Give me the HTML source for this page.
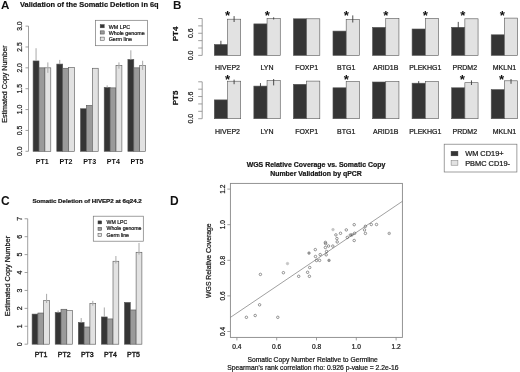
<!DOCTYPE html>
<html><head><meta charset="utf-8"><style>
html,body{margin:0;padding:0;background:#fff;}
body{width:520px;height:372px;overflow:hidden;}
svg{display:block;font-family:"Liberation Sans", sans-serif;filter:blur(0.3px);}
svg text{-webkit-font-smoothing:antialiased;stroke:#222;stroke-width:0.22px;}
body{will-change:transform;}
</style></head><body>
<svg width="520" height="372" viewBox="0 0 520 372" font-family='"Liberation Sans", sans-serif'>
<rect x="0" y="0" width="520" height="372" fill="#fff"/>
<text x="1.00" y="9.20" font-size="11.6" font-weight="bold" text-anchor="start" fill="#111" style="stroke:none">A</text>
<text x="20.00" y="6.80" font-size="7.4" font-weight="bold" text-anchor="start" fill="#111" textLength="138.6" lengthAdjust="spacingAndGlyphs">Validation of the Somatic Deletion in 6q</text>
<line x1="28.50" y1="151.30" x2="28.50" y2="26.11" stroke="#888888" stroke-width="0.8"/>
<line x1="25.50" y1="151.30" x2="28.50" y2="151.30" stroke="#888888" stroke-width="0.8"/>
<text transform="translate(22.10,151.30) rotate(-90)" x="0" y="0" font-size="6.8" text-anchor="middle" fill="#111">0.0</text>
<line x1="25.50" y1="130.44" x2="28.50" y2="130.44" stroke="#888888" stroke-width="0.8"/>
<text transform="translate(22.10,130.44) rotate(-90)" x="0" y="0" font-size="6.8" text-anchor="middle" fill="#111">0.5</text>
<line x1="25.50" y1="109.57" x2="28.50" y2="109.57" stroke="#888888" stroke-width="0.8"/>
<text transform="translate(22.10,109.57) rotate(-90)" x="0" y="0" font-size="6.8" text-anchor="middle" fill="#111">1.0</text>
<line x1="25.50" y1="88.71" x2="28.50" y2="88.71" stroke="#888888" stroke-width="0.8"/>
<text transform="translate(22.10,88.71) rotate(-90)" x="0" y="0" font-size="6.8" text-anchor="middle" fill="#111">1.5</text>
<line x1="25.50" y1="67.84" x2="28.50" y2="67.84" stroke="#888888" stroke-width="0.8"/>
<text transform="translate(22.10,67.84) rotate(-90)" x="0" y="0" font-size="6.8" text-anchor="middle" fill="#111">2.0</text>
<line x1="25.50" y1="46.98" x2="28.50" y2="46.98" stroke="#888888" stroke-width="0.8"/>
<text transform="translate(22.10,46.98) rotate(-90)" x="0" y="0" font-size="6.8" text-anchor="middle" fill="#111">2.5</text>
<line x1="25.50" y1="26.11" x2="28.50" y2="26.11" stroke="#888888" stroke-width="0.8"/>
<text transform="translate(22.10,26.11) rotate(-90)" x="0" y="0" font-size="6.8" text-anchor="middle" fill="#111">3.0</text>
<text transform="translate(7.00,84.10) rotate(-90)" x="0" y="0" font-size="7.1" text-anchor="middle" fill="#111">Estimated Copy Number</text>
<rect x="33.10" y="60.95" width="5.90" height="90.35" fill="#353535" stroke="#555" stroke-width="0.6"/>
<rect x="39.00" y="67.84" width="5.90" height="83.46" fill="#9a9a9a" stroke="#555" stroke-width="0.6"/>
<rect x="44.90" y="67.84" width="5.90" height="83.46" fill="#e2e2e2" stroke="#555" stroke-width="0.6"/>
<text x="42.25" y="164.20" font-size="7.1" font-weight="bold" text-anchor="middle" fill="#111" style="stroke:none">PT1</text>
<rect x="56.80" y="64.08" width="5.90" height="87.22" fill="#353535" stroke="#555" stroke-width="0.6"/>
<rect x="62.70" y="68.26" width="5.90" height="83.04" fill="#9a9a9a" stroke="#555" stroke-width="0.6"/>
<rect x="68.60" y="67.42" width="5.90" height="83.88" fill="#e2e2e2" stroke="#555" stroke-width="0.6"/>
<text x="65.95" y="164.20" font-size="7.1" font-weight="bold" text-anchor="middle" fill="#111" style="stroke:none">PT2</text>
<rect x="80.50" y="108.74" width="5.90" height="42.56" fill="#353535" stroke="#555" stroke-width="0.6"/>
<rect x="86.40" y="105.40" width="5.90" height="45.90" fill="#9a9a9a" stroke="#555" stroke-width="0.6"/>
<rect x="92.30" y="68.26" width="5.90" height="83.04" fill="#e2e2e2" stroke="#555" stroke-width="0.6"/>
<text x="89.65" y="164.20" font-size="7.1" font-weight="bold" text-anchor="middle" fill="#111" style="stroke:none">PT3</text>
<rect x="104.20" y="87.45" width="5.90" height="63.85" fill="#353535" stroke="#555" stroke-width="0.6"/>
<rect x="110.10" y="87.87" width="5.90" height="63.43" fill="#9a9a9a" stroke="#555" stroke-width="0.6"/>
<rect x="116.00" y="65.34" width="5.90" height="85.96" fill="#e2e2e2" stroke="#555" stroke-width="0.6"/>
<text x="113.35" y="164.20" font-size="7.1" font-weight="bold" text-anchor="middle" fill="#111" style="stroke:none">PT4</text>
<rect x="127.90" y="59.49" width="5.90" height="91.81" fill="#353535" stroke="#555" stroke-width="0.6"/>
<rect x="133.80" y="67.84" width="5.90" height="83.46" fill="#9a9a9a" stroke="#555" stroke-width="0.6"/>
<rect x="139.70" y="65.34" width="5.90" height="85.96" fill="#e2e2e2" stroke="#555" stroke-width="0.6"/>
<text x="137.05" y="164.20" font-size="7.1" font-weight="bold" text-anchor="middle" fill="#111" style="stroke:none">PT5</text>
<line x1="36.05" y1="60.95" x2="36.05" y2="48.23" stroke="#a8a8a8" stroke-width="1.0"/>
<line x1="47.85" y1="72.85" x2="47.85" y2="62.42" stroke="#a8a8a8" stroke-width="1.0"/>
<line x1="59.75" y1="64.08" x2="59.75" y2="59.91" stroke="#a8a8a8" stroke-width="1.0"/>
<line x1="107.15" y1="87.45" x2="107.15" y2="85.37" stroke="#a8a8a8" stroke-width="1.0"/>
<line x1="118.95" y1="68.67" x2="118.95" y2="62.42" stroke="#a8a8a8" stroke-width="1.0"/>
<line x1="130.85" y1="59.49" x2="130.85" y2="50.31" stroke="#a8a8a8" stroke-width="1.0"/>
<line x1="142.65" y1="69.93" x2="142.65" y2="60.75" stroke="#a8a8a8" stroke-width="1.0"/>
<rect x="95.50" y="20.30" width="51.90" height="25.40" fill="none" stroke="#777" stroke-width="0.7"/>
<rect x="100.20" y="24.60" width="4.00" height="3.20" fill="#353535" stroke="#444" stroke-width="0.5"/>
<text x="108.70" y="28.60" font-size="5.35" text-anchor="start" fill="#111">WM LPC</text>
<rect x="100.20" y="30.85" width="4.00" height="3.20" fill="#9a9a9a" stroke="#444" stroke-width="0.5"/>
<text x="108.70" y="34.85" font-size="5.35" text-anchor="start" fill="#111">Whole genome</text>
<rect x="100.20" y="37.10" width="4.00" height="3.20" fill="#e2e2e2" stroke="#444" stroke-width="0.5"/>
<text x="108.70" y="41.10" font-size="5.35" text-anchor="start" fill="#111">Germ line</text>
<text x="173.00" y="9.30" font-size="11.6" font-weight="bold" text-anchor="start" fill="#111" style="stroke:none">B</text>
<line x1="202.20" y1="55.40" x2="202.20" y2="18.50" stroke="#888888" stroke-width="0.8"/>
<line x1="198.20" y1="55.40" x2="202.20" y2="55.40" stroke="#888888" stroke-width="0.8"/>
<line x1="198.20" y1="48.02" x2="202.20" y2="48.02" stroke="#888888" stroke-width="0.8"/>
<line x1="198.20" y1="40.64" x2="202.20" y2="40.64" stroke="#888888" stroke-width="0.8"/>
<line x1="198.20" y1="33.26" x2="202.20" y2="33.26" stroke="#888888" stroke-width="0.8"/>
<line x1="198.20" y1="25.88" x2="202.20" y2="25.88" stroke="#888888" stroke-width="0.8"/>
<line x1="198.20" y1="18.50" x2="202.20" y2="18.50" stroke="#888888" stroke-width="0.8"/>
<text transform="translate(192.70,55.40) rotate(-90)" x="0" y="0" font-size="7.0" text-anchor="middle" fill="#111">0.0</text>
<text transform="translate(192.70,33.26) rotate(-90)" x="0" y="0" font-size="7.0" text-anchor="middle" fill="#111">0.6</text>
<text transform="translate(178.40,34.00) rotate(-90)" x="0" y="0" font-size="8.0" font-weight="bold" text-anchor="middle" fill="#111">PT4</text>
<rect x="214.30" y="44.50" width="13.20" height="10.90" fill="#353535" stroke="#555" stroke-width="0.6"/>
<rect x="227.50" y="19.20" width="13.20" height="36.20" fill="#e2e2e2" stroke="#555" stroke-width="0.6"/>
<text x="227.50" y="70.40" font-size="7.0" text-anchor="middle" fill="#111">HIVEP2</text>
<text x="227.50" y="20.00" font-size="13.2" font-weight="bold" text-anchor="middle" fill="#111" style="stroke:none">*</text>
<rect x="253.86" y="23.90" width="13.20" height="31.50" fill="#353535" stroke="#555" stroke-width="0.6"/>
<rect x="267.06" y="18.40" width="13.20" height="37.00" fill="#e2e2e2" stroke="#555" stroke-width="0.6"/>
<text x="267.06" y="70.40" font-size="7.0" text-anchor="middle" fill="#111">LYN</text>
<text x="267.40" y="20.00" font-size="13.2" font-weight="bold" text-anchor="middle" fill="#111" style="stroke:none">*</text>
<rect x="293.42" y="18.80" width="13.20" height="36.60" fill="#353535" stroke="#555" stroke-width="0.6"/>
<rect x="306.62" y="18.80" width="13.20" height="36.60" fill="#e2e2e2" stroke="#555" stroke-width="0.6"/>
<text x="306.62" y="70.40" font-size="7.0" text-anchor="middle" fill="#111">FOXP1</text>
<rect x="332.98" y="31.10" width="13.20" height="24.30" fill="#353535" stroke="#555" stroke-width="0.6"/>
<rect x="346.18" y="19.30" width="13.20" height="36.10" fill="#e2e2e2" stroke="#555" stroke-width="0.6"/>
<text x="346.18" y="70.40" font-size="7.0" text-anchor="middle" fill="#111">BTG1</text>
<text x="346.20" y="20.00" font-size="13.2" font-weight="bold" text-anchor="middle" fill="#111" style="stroke:none">*</text>
<rect x="372.54" y="27.40" width="13.20" height="28.00" fill="#353535" stroke="#555" stroke-width="0.6"/>
<rect x="385.74" y="18.40" width="13.20" height="37.00" fill="#e2e2e2" stroke="#555" stroke-width="0.6"/>
<text x="385.74" y="70.40" font-size="7.0" text-anchor="middle" fill="#111">ARID1B</text>
<text x="385.70" y="20.00" font-size="13.2" font-weight="bold" text-anchor="middle" fill="#111" style="stroke:none">*</text>
<rect x="412.10" y="29.00" width="13.20" height="26.40" fill="#353535" stroke="#555" stroke-width="0.6"/>
<rect x="425.30" y="18.40" width="13.20" height="37.00" fill="#e2e2e2" stroke="#555" stroke-width="0.6"/>
<text x="425.30" y="70.40" font-size="7.0" text-anchor="middle" fill="#111">PLEKHG1</text>
<text x="425.40" y="20.00" font-size="13.2" font-weight="bold" text-anchor="middle" fill="#111" style="stroke:none">*</text>
<rect x="451.66" y="27.30" width="13.20" height="28.10" fill="#353535" stroke="#555" stroke-width="0.6"/>
<rect x="464.86" y="18.80" width="13.20" height="36.60" fill="#e2e2e2" stroke="#555" stroke-width="0.6"/>
<text x="464.86" y="70.40" font-size="7.0" text-anchor="middle" fill="#111">PRDM2</text>
<text x="462.70" y="20.00" font-size="13.2" font-weight="bold" text-anchor="middle" fill="#111" style="stroke:none">*</text>
<rect x="491.22" y="34.80" width="13.20" height="20.60" fill="#353535" stroke="#555" stroke-width="0.6"/>
<rect x="504.42" y="18.10" width="13.20" height="37.30" fill="#e2e2e2" stroke="#555" stroke-width="0.6"/>
<text x="504.42" y="70.40" font-size="7.0" text-anchor="middle" fill="#111">MKLN1</text>
<text x="502.30" y="20.00" font-size="13.2" font-weight="bold" text-anchor="middle" fill="#111" style="stroke:none">*</text>
<line x1="220.90" y1="47.50" x2="220.90" y2="40.80" stroke="#3a3a3a" stroke-width="0.9"/>
<line x1="234.10" y1="22.00" x2="234.10" y2="16.10" stroke="#3a3a3a" stroke-width="0.9"/>
<line x1="352.78" y1="22.50" x2="352.78" y2="15.40" stroke="#3a3a3a" stroke-width="0.9"/>
<line x1="458.26" y1="30.50" x2="458.26" y2="21.90" stroke="#3a3a3a" stroke-width="0.9"/>
<line x1="273.66" y1="19.50" x2="273.66" y2="17.30" stroke="#3a3a3a" stroke-width="0.9"/>
<line x1="202.20" y1="118.70" x2="202.20" y2="81.80" stroke="#888888" stroke-width="0.8"/>
<line x1="198.20" y1="118.70" x2="202.20" y2="118.70" stroke="#888888" stroke-width="0.8"/>
<line x1="198.20" y1="111.32" x2="202.20" y2="111.32" stroke="#888888" stroke-width="0.8"/>
<line x1="198.20" y1="103.94" x2="202.20" y2="103.94" stroke="#888888" stroke-width="0.8"/>
<line x1="198.20" y1="96.56" x2="202.20" y2="96.56" stroke="#888888" stroke-width="0.8"/>
<line x1="198.20" y1="89.18" x2="202.20" y2="89.18" stroke="#888888" stroke-width="0.8"/>
<line x1="198.20" y1="81.80" x2="202.20" y2="81.80" stroke="#888888" stroke-width="0.8"/>
<text transform="translate(192.70,118.70) rotate(-90)" x="0" y="0" font-size="7.0" text-anchor="middle" fill="#111">0.0</text>
<text transform="translate(192.70,96.56) rotate(-90)" x="0" y="0" font-size="7.0" text-anchor="middle" fill="#111">0.6</text>
<text transform="translate(178.40,98.00) rotate(-90)" x="0" y="0" font-size="8.0" font-weight="bold" text-anchor="middle" fill="#111">PT5</text>
<rect x="214.30" y="99.90" width="13.20" height="18.80" fill="#353535" stroke="#555" stroke-width="0.6"/>
<rect x="227.50" y="81.20" width="13.20" height="37.50" fill="#e2e2e2" stroke="#555" stroke-width="0.6"/>
<text x="227.50" y="134.10" font-size="7.0" text-anchor="middle" fill="#111">HIVEP2</text>
<text x="227.50" y="83.80" font-size="13.2" font-weight="bold" text-anchor="middle" fill="#111" style="stroke:none">*</text>
<rect x="253.86" y="86.10" width="13.20" height="32.60" fill="#353535" stroke="#555" stroke-width="0.6"/>
<rect x="267.06" y="80.30" width="13.20" height="38.40" fill="#e2e2e2" stroke="#555" stroke-width="0.6"/>
<text x="267.06" y="134.10" font-size="7.0" text-anchor="middle" fill="#111">LYN</text>
<rect x="293.42" y="84.30" width="13.20" height="34.40" fill="#353535" stroke="#555" stroke-width="0.6"/>
<rect x="306.62" y="81.10" width="13.20" height="37.60" fill="#e2e2e2" stroke="#555" stroke-width="0.6"/>
<text x="306.62" y="134.10" font-size="7.0" text-anchor="middle" fill="#111">FOXP1</text>
<rect x="332.98" y="87.80" width="13.20" height="30.90" fill="#353535" stroke="#555" stroke-width="0.6"/>
<rect x="346.18" y="81.50" width="13.20" height="37.20" fill="#e2e2e2" stroke="#555" stroke-width="0.6"/>
<text x="346.18" y="134.10" font-size="7.0" text-anchor="middle" fill="#111">BTG1</text>
<text x="346.20" y="83.80" font-size="13.2" font-weight="bold" text-anchor="middle" fill="#111" style="stroke:none">*</text>
<rect x="372.54" y="82.00" width="13.20" height="36.70" fill="#353535" stroke="#555" stroke-width="0.6"/>
<rect x="385.74" y="81.50" width="13.20" height="37.20" fill="#e2e2e2" stroke="#555" stroke-width="0.6"/>
<text x="385.74" y="134.10" font-size="7.0" text-anchor="middle" fill="#111">ARID1B</text>
<rect x="412.10" y="83.20" width="13.20" height="35.50" fill="#353535" stroke="#555" stroke-width="0.6"/>
<rect x="425.30" y="81.50" width="13.20" height="37.20" fill="#e2e2e2" stroke="#555" stroke-width="0.6"/>
<text x="425.30" y="134.10" font-size="7.0" text-anchor="middle" fill="#111">PLEKHG1</text>
<rect x="451.66" y="87.80" width="13.20" height="30.90" fill="#353535" stroke="#555" stroke-width="0.6"/>
<rect x="464.86" y="82.70" width="13.20" height="36.00" fill="#e2e2e2" stroke="#555" stroke-width="0.6"/>
<text x="464.86" y="134.10" font-size="7.0" text-anchor="middle" fill="#111">PRDM2</text>
<text x="462.30" y="83.80" font-size="13.2" font-weight="bold" text-anchor="middle" fill="#111" style="stroke:none">*</text>
<rect x="491.22" y="89.60" width="13.20" height="29.10" fill="#353535" stroke="#555" stroke-width="0.6"/>
<rect x="504.42" y="80.80" width="13.20" height="37.90" fill="#e2e2e2" stroke="#555" stroke-width="0.6"/>
<text x="504.42" y="134.10" font-size="7.0" text-anchor="middle" fill="#111">MKLN1</text>
<text x="501.50" y="83.80" font-size="13.2" font-weight="bold" text-anchor="middle" fill="#111" style="stroke:none">*</text>
<line x1="234.10" y1="84.20" x2="234.10" y2="79.60" stroke="#3a3a3a" stroke-width="0.9"/>
<line x1="260.46" y1="92.30" x2="260.46" y2="83.10" stroke="#3a3a3a" stroke-width="0.9"/>
<line x1="273.66" y1="85.40" x2="273.66" y2="79.00" stroke="#3a3a3a" stroke-width="0.9"/>
<line x1="418.70" y1="85.00" x2="418.70" y2="81.10" stroke="#3a3a3a" stroke-width="0.9"/>
<line x1="471.46" y1="85.00" x2="471.46" y2="80.40" stroke="#3a3a3a" stroke-width="0.9"/>
<line x1="511.02" y1="83.80" x2="511.02" y2="79.00" stroke="#3a3a3a" stroke-width="0.9"/>
<rect x="444.20" y="144.20" width="72.70" height="27.80" fill="none" stroke="#777" stroke-width="0.7"/>
<rect x="451.10" y="151.30" width="6.80" height="4.50" fill="#353535" stroke="#333" stroke-width="0.5"/>
<rect x="451.10" y="160.70" width="6.80" height="4.50" fill="#e2e2e2" stroke="#777" stroke-width="0.5"/>
<text x="465.20" y="156.40" font-size="7.4" text-anchor="start" fill="#111">WM CD19+</text>
<text x="465.20" y="165.60" font-size="7.4" text-anchor="start" fill="#111">PBMC CD19-</text>
<text x="0.90" y="204.60" font-size="12" font-weight="bold" text-anchor="start" fill="#111" style="stroke:none">C</text>
<text x="32.40" y="202.90" font-size="6.15" font-weight="bold" text-anchor="start" fill="#111" textLength="109.4" lengthAdjust="spacingAndGlyphs">Somatic Deletion of HIVEP2 at 6q24.2</text>
<line x1="27.70" y1="344.20" x2="27.70" y2="218.76" stroke="#888888" stroke-width="0.8"/>
<line x1="24.60" y1="344.20" x2="27.70" y2="344.20" stroke="#888888" stroke-width="0.8"/>
<text transform="translate(21.80,344.20) rotate(-90)" x="0" y="0" font-size="7.0" text-anchor="middle" fill="#111">0</text>
<line x1="24.60" y1="326.28" x2="27.70" y2="326.28" stroke="#888888" stroke-width="0.8"/>
<text transform="translate(21.80,326.28) rotate(-90)" x="0" y="0" font-size="7.0" text-anchor="middle" fill="#111">1</text>
<line x1="24.60" y1="308.36" x2="27.70" y2="308.36" stroke="#888888" stroke-width="0.8"/>
<text transform="translate(21.80,308.36) rotate(-90)" x="0" y="0" font-size="7.0" text-anchor="middle" fill="#111">2</text>
<line x1="24.60" y1="290.44" x2="27.70" y2="290.44" stroke="#888888" stroke-width="0.8"/>
<text transform="translate(21.80,290.44) rotate(-90)" x="0" y="0" font-size="7.0" text-anchor="middle" fill="#111">3</text>
<line x1="24.60" y1="272.52" x2="27.70" y2="272.52" stroke="#888888" stroke-width="0.8"/>
<text transform="translate(21.80,272.52) rotate(-90)" x="0" y="0" font-size="7.0" text-anchor="middle" fill="#111">4</text>
<line x1="24.60" y1="254.60" x2="27.70" y2="254.60" stroke="#888888" stroke-width="0.8"/>
<text transform="translate(21.80,254.60) rotate(-90)" x="0" y="0" font-size="7.0" text-anchor="middle" fill="#111">5</text>
<line x1="24.60" y1="236.68" x2="27.70" y2="236.68" stroke="#888888" stroke-width="0.8"/>
<text transform="translate(21.80,236.68) rotate(-90)" x="0" y="0" font-size="7.0" text-anchor="middle" fill="#111">6</text>
<line x1="24.60" y1="218.76" x2="27.70" y2="218.76" stroke="#888888" stroke-width="0.8"/>
<text transform="translate(21.80,218.76) rotate(-90)" x="0" y="0" font-size="7.0" text-anchor="middle" fill="#111">7</text>
<text transform="translate(9.80,276.10) rotate(-90)" x="0" y="0" font-size="7.4" text-anchor="middle" fill="#111">Estimated Copy Number</text>
<rect x="32.10" y="314.09" width="5.80" height="30.11" fill="#353535" stroke="#555" stroke-width="0.6"/>
<rect x="37.90" y="313.02" width="5.80" height="31.18" fill="#9a9a9a" stroke="#555" stroke-width="0.6"/>
<rect x="43.70" y="300.48" width="5.80" height="43.72" fill="#e2e2e2" stroke="#555" stroke-width="0.6"/>
<text x="41.10" y="357.00" font-size="7.0" text-anchor="middle" fill="#111" style="stroke-width:0.4px">PT1</text>
<rect x="55.20" y="312.48" width="5.80" height="31.72" fill="#353535" stroke="#555" stroke-width="0.6"/>
<rect x="61.00" y="309.26" width="5.80" height="34.94" fill="#9a9a9a" stroke="#555" stroke-width="0.6"/>
<rect x="66.80" y="310.51" width="5.80" height="33.69" fill="#e2e2e2" stroke="#555" stroke-width="0.6"/>
<text x="64.20" y="357.00" font-size="7.0" text-anchor="middle" fill="#111" style="stroke-width:0.4px">PT2</text>
<rect x="78.30" y="322.52" width="5.80" height="21.68" fill="#353535" stroke="#555" stroke-width="0.6"/>
<rect x="84.10" y="327.00" width="5.80" height="17.20" fill="#9a9a9a" stroke="#555" stroke-width="0.6"/>
<rect x="89.90" y="303.52" width="5.80" height="40.68" fill="#e2e2e2" stroke="#555" stroke-width="0.6"/>
<text x="87.30" y="357.00" font-size="7.0" text-anchor="middle" fill="#111" style="stroke-width:0.4px">PT3</text>
<rect x="101.40" y="316.96" width="5.80" height="27.24" fill="#353535" stroke="#555" stroke-width="0.6"/>
<rect x="107.20" y="318.93" width="5.80" height="25.27" fill="#9a9a9a" stroke="#555" stroke-width="0.6"/>
<rect x="113.00" y="261.23" width="5.80" height="82.97" fill="#e2e2e2" stroke="#555" stroke-width="0.6"/>
<text x="110.40" y="357.00" font-size="7.0" text-anchor="middle" fill="#111" style="stroke-width:0.4px">PT4</text>
<rect x="124.50" y="302.45" width="5.80" height="41.75" fill="#353535" stroke="#555" stroke-width="0.6"/>
<rect x="130.30" y="309.97" width="5.80" height="34.23" fill="#9a9a9a" stroke="#555" stroke-width="0.6"/>
<rect x="136.10" y="252.27" width="5.80" height="91.93" fill="#e2e2e2" stroke="#555" stroke-width="0.6"/>
<text x="133.50" y="357.00" font-size="7.0" text-anchor="middle" fill="#111" style="stroke-width:0.4px">PT5</text>
<line x1="46.60" y1="302.98" x2="46.60" y2="293.84" stroke="#a8a8a8" stroke-width="1.0"/>
<line x1="58.10" y1="312.48" x2="58.10" y2="310.51" stroke="#a8a8a8" stroke-width="1.0"/>
<line x1="81.20" y1="322.52" x2="81.20" y2="318.04" stroke="#a8a8a8" stroke-width="1.0"/>
<line x1="92.80" y1="305.67" x2="92.80" y2="300.83" stroke="#a8a8a8" stroke-width="1.0"/>
<line x1="104.30" y1="316.96" x2="104.30" y2="307.46" stroke="#a8a8a8" stroke-width="1.0"/>
<line x1="115.90" y1="263.56" x2="115.90" y2="256.03" stroke="#a8a8a8" stroke-width="1.0"/>
<line x1="139.00" y1="254.60" x2="139.00" y2="242.95" stroke="#a8a8a8" stroke-width="1.0"/>
<rect x="93.30" y="216.20" width="50.00" height="25.00" fill="none" stroke="#777" stroke-width="0.7"/>
<rect x="98.00" y="220.90" width="3.70" height="3.00" fill="#353535" stroke="#444" stroke-width="0.5"/>
<text x="106.50" y="224.00" font-size="5.2" text-anchor="start" fill="#111">WM LPC</text>
<rect x="98.00" y="227.30" width="3.70" height="3.00" fill="#9a9a9a" stroke="#444" stroke-width="0.5"/>
<text x="106.50" y="230.40" font-size="5.2" text-anchor="start" fill="#111">Whole genome</text>
<rect x="98.00" y="233.70" width="3.70" height="3.00" fill="#e2e2e2" stroke="#444" stroke-width="0.5"/>
<text x="106.50" y="236.80" font-size="5.2" text-anchor="start" fill="#111">Germ line</text>
<text x="170.00" y="204.60" font-size="12" font-weight="bold" text-anchor="start" fill="#111" style="stroke:none">D</text>
<text x="316.00" y="166.90" font-size="6.95" font-weight="bold" text-anchor="middle" fill="#111" textLength="138.7" lengthAdjust="spacingAndGlyphs">WGS Relative Coverage vs. Somatic Copy</text>
<text x="316.00" y="175.80" font-size="6.95" font-weight="bold" text-anchor="middle" fill="#111" textLength="91.5" lengthAdjust="spacingAndGlyphs">Number Validation by qPCR</text>
<rect x="230.4" y="183.4" width="172.0" height="154.0" fill="none" stroke="#888888" stroke-width="0.9"/>
<line x1="227.30" y1="331.50" x2="230.40" y2="331.50" stroke="#888888" stroke-width="0.8"/>
<text transform="translate(225.20,331.50) rotate(-90)" x="0" y="0" font-size="6.6" text-anchor="middle" fill="#111">0.4</text>
<line x1="227.30" y1="295.90" x2="230.40" y2="295.90" stroke="#888888" stroke-width="0.8"/>
<text transform="translate(225.20,295.90) rotate(-90)" x="0" y="0" font-size="6.6" text-anchor="middle" fill="#111">0.6</text>
<line x1="227.30" y1="260.30" x2="230.40" y2="260.30" stroke="#888888" stroke-width="0.8"/>
<text transform="translate(225.20,260.30) rotate(-90)" x="0" y="0" font-size="6.6" text-anchor="middle" fill="#111">0.8</text>
<line x1="227.30" y1="224.70" x2="230.40" y2="224.70" stroke="#888888" stroke-width="0.8"/>
<text transform="translate(225.20,224.70) rotate(-90)" x="0" y="0" font-size="6.6" text-anchor="middle" fill="#111">1.0</text>
<line x1="227.30" y1="189.10" x2="230.40" y2="189.10" stroke="#888888" stroke-width="0.8"/>
<text transform="translate(225.20,189.10) rotate(-90)" x="0" y="0" font-size="6.6" text-anchor="middle" fill="#111">1.2</text>
<line x1="236.90" y1="337.40" x2="236.90" y2="340.40" stroke="#888888" stroke-width="0.8"/>
<text x="236.90" y="349.00" font-size="6.6" text-anchor="middle" fill="#111">0.4</text>
<line x1="276.70" y1="337.40" x2="276.70" y2="340.40" stroke="#888888" stroke-width="0.8"/>
<text x="276.70" y="349.00" font-size="6.6" text-anchor="middle" fill="#111">0.6</text>
<line x1="316.50" y1="337.40" x2="316.50" y2="340.40" stroke="#888888" stroke-width="0.8"/>
<text x="316.50" y="349.00" font-size="6.6" text-anchor="middle" fill="#111">0.8</text>
<line x1="356.30" y1="337.40" x2="356.30" y2="340.40" stroke="#888888" stroke-width="0.8"/>
<text x="356.30" y="349.00" font-size="6.6" text-anchor="middle" fill="#111">1.0</text>
<line x1="396.10" y1="337.40" x2="396.10" y2="340.40" stroke="#888888" stroke-width="0.8"/>
<text x="396.10" y="349.00" font-size="6.6" text-anchor="middle" fill="#111">1.2</text>
<text transform="translate(211.10,260.60) rotate(-90)" x="0" y="0" font-size="6.85" text-anchor="middle" fill="#111">WGS Relative Coverage</text>
<text x="312.60" y="361.50" font-size="6.75" text-anchor="middle" fill="#111" textLength="130.2" lengthAdjust="spacingAndGlyphs">Somatic Copy Number Relative to Germline</text>
<text x="312.90" y="369.60" font-size="6.75" text-anchor="middle" fill="#111" textLength="171.2" lengthAdjust="spacingAndGlyphs">Spearman's rank correlation rho: 0.926 p-value = 2.2e-16</text>
<line x1="230.40" y1="317.40" x2="402.40" y2="201.30" stroke="#777" stroke-width="0.7"/>
<circle cx="246.40" cy="317.30" r="1.25" fill="none" stroke="#444" stroke-width="0.55"/>
<circle cx="255.20" cy="315.50" r="1.25" fill="none" stroke="#444" stroke-width="0.55"/>
<circle cx="259.60" cy="304.80" r="1.25" fill="none" stroke="#444" stroke-width="0.55"/>
<circle cx="260.40" cy="274.40" r="1.25" fill="none" stroke="#444" stroke-width="0.55"/>
<circle cx="277.80" cy="317.30" r="1.25" fill="none" stroke="#444" stroke-width="0.55"/>
<circle cx="283.40" cy="272.70" r="1.25" fill="none" stroke="#444" stroke-width="0.55"/>
<circle cx="287.50" cy="263.60" r="1.3" fill="#c4c4c4" stroke="#c4c4c4" stroke-width="0.6"/>
<circle cx="298.70" cy="276.30" r="1.25" fill="none" stroke="#444" stroke-width="0.55"/>
<circle cx="307.60" cy="272.30" r="1.25" fill="none" stroke="#444" stroke-width="0.55"/>
<circle cx="309.40" cy="276.30" r="1.25" fill="none" stroke="#444" stroke-width="0.55"/>
<circle cx="309.70" cy="267.50" r="1.25" fill="none" stroke="#444" stroke-width="0.55"/>
<circle cx="309.00" cy="253.10" r="1.3" fill="#999" stroke="#888" stroke-width="0.6"/>
<circle cx="315.30" cy="249.60" r="1.25" fill="none" stroke="#444" stroke-width="0.55"/>
<circle cx="315.50" cy="256.50" r="1.25" fill="none" stroke="#444" stroke-width="0.55"/>
<circle cx="316.50" cy="260.50" r="1.25" fill="none" stroke="#444" stroke-width="0.55"/>
<circle cx="319.60" cy="260.40" r="1.25" fill="none" stroke="#444" stroke-width="0.55"/>
<circle cx="320.20" cy="254.60" r="1.25" fill="none" stroke="#444" stroke-width="0.55"/>
<circle cx="325.40" cy="242.40" r="1.25" fill="none" stroke="#444" stroke-width="0.55"/>
<circle cx="325.40" cy="247.50" r="1.25" fill="none" stroke="#444" stroke-width="0.55"/>
<circle cx="328.50" cy="246.00" r="1.25" fill="none" stroke="#444" stroke-width="0.55"/>
<circle cx="326.60" cy="251.50" r="1.25" fill="none" stroke="#444" stroke-width="0.55"/>
<circle cx="326.20" cy="254.80" r="1.25" fill="none" stroke="#444" stroke-width="0.55"/>
<circle cx="329.00" cy="260.40" r="1.3" fill="#999" stroke="#888" stroke-width="0.6"/>
<circle cx="332.80" cy="246.10" r="1.25" fill="none" stroke="#444" stroke-width="0.55"/>
<circle cx="333.00" cy="229.60" r="1.3" fill="#c4c4c4" stroke="#c4c4c4" stroke-width="0.6"/>
<circle cx="335.90" cy="234.90" r="1.25" fill="none" stroke="#444" stroke-width="0.55"/>
<circle cx="336.90" cy="238.60" r="1.25" fill="none" stroke="#444" stroke-width="0.55"/>
<circle cx="337.20" cy="241.90" r="1.25" fill="none" stroke="#444" stroke-width="0.55"/>
<circle cx="340.50" cy="233.30" r="1.25" fill="none" stroke="#444" stroke-width="0.55"/>
<circle cx="346.30" cy="229.90" r="1.25" fill="none" stroke="#444" stroke-width="0.55"/>
<circle cx="347.30" cy="237.40" r="1.25" fill="none" stroke="#444" stroke-width="0.55"/>
<circle cx="350.30" cy="235.00" r="1.25" fill="none" stroke="#444" stroke-width="0.55"/>
<circle cx="351.90" cy="234.90" r="1.25" fill="none" stroke="#444" stroke-width="0.55"/>
<circle cx="354.60" cy="233.30" r="1.25" fill="none" stroke="#444" stroke-width="0.55"/>
<circle cx="354.20" cy="224.70" r="1.25" fill="none" stroke="#444" stroke-width="0.55"/>
<circle cx="354.20" cy="240.50" r="1.25" fill="none" stroke="#444" stroke-width="0.55"/>
<circle cx="365.40" cy="226.30" r="1.25" fill="none" stroke="#444" stroke-width="0.55"/>
<circle cx="364.50" cy="229.90" r="1.25" fill="none" stroke="#444" stroke-width="0.55"/>
<circle cx="365.40" cy="233.40" r="1.25" fill="none" stroke="#444" stroke-width="0.55"/>
<circle cx="371.30" cy="224.50" r="1.25" fill="none" stroke="#444" stroke-width="0.55"/>
<circle cx="376.50" cy="224.50" r="1.25" fill="none" stroke="#444" stroke-width="0.55"/>
<circle cx="389.20" cy="233.40" r="1.3" fill="#ccc" stroke="#888" stroke-width="0.6"/>
<circle cx="325.60" cy="243.60" r="1.25" fill="none" stroke="#444" stroke-width="0.55"/>
</svg>
</body></html>
